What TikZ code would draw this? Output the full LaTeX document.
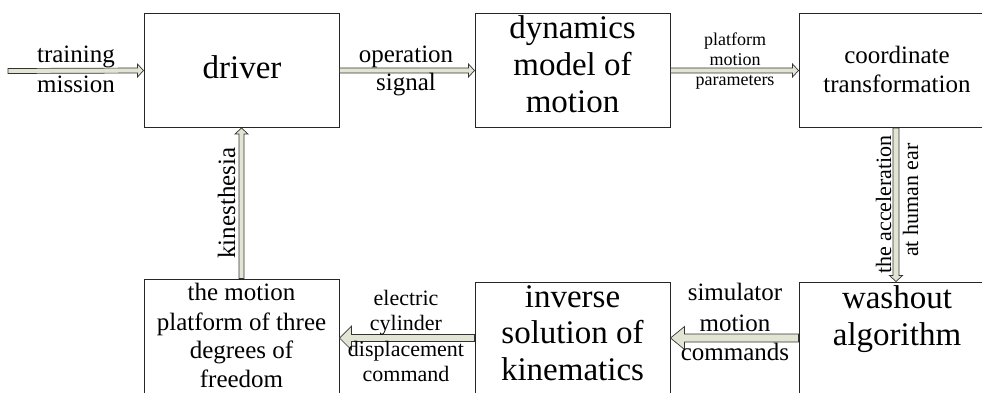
\documentclass[tikz,border=0pt]{standalone}
\usepackage{fontspec}
\setmainfont{Liberation Serif}
\usetikzlibrary{calc}
\definecolor{arrowfill}{RGB}{226,228,212}
\tikzset{
  box/.style={draw=black!85, line width=1pt, inner sep=0pt, minimum width=195pt},
  topbox/.style={box, minimum height=114pt},
  botbox/.style={box, minimum height=112pt},
  fatline/.style={draw=black!80, line width=0.7pt, fill=arrowfill, line join=miter},
  bigt/.style={font=\fontsize{33}{37}\selectfont, inner sep=0pt, anchor=base},
  midt/.style={font=\fontsize{25}{29}\selectfont, inner sep=0pt, anchor=base},
  elt/.style={font=\fontsize{22}{25}\selectfont, inner sep=0pt, anchor=base},
  acct/.style={font=\fontsize{22}{25}\selectfont, inner sep=0pt, anchor=base, rotate=90},
  kint/.style={font=\fontsize{25}{29}\selectfont, inner sep=0pt, anchor=base, rotate=90},
  smt/.style={font=\fontsize{18}{20}\selectfont, inner sep=0pt, anchor=base},
}
% #1 from, #2 to, #3 half shaft, #4 half head width, #5 head length
\newcommand\fatarrow[5]{%
  \coordinate (fa-s) at (#1);
  \coordinate (fa-e) at (#2);
  \coordinate (fa-h) at ($(fa-e)!#5!(fa-s)$);
  \draw[fatline] ($(fa-s)!#3!90:(fa-e)$) -- ($(fa-h)!#3!-90:(fa-s)$)
    -- ($(fa-h)!#4!-90:(fa-s)$) -- (fa-e) -- ($(fa-h)!#4!90:(fa-s)$)
    -- ($(fa-h)!#3!90:(fa-s)$) -- ($(fa-s)!#3!-90:(fa-e)$) -- cycle;}
\begin{document}
\begin{tikzpicture}[x=1pt, y=-1pt]
\useasboundingbox (0,0) rectangle (982,392);
\clip (0,0) rectangle (982,392);
% boxes
\node[topbox] (driver) at (241.5,70.5) {};
\node[topbox] (dyn) at (572.5,70.5) {};
\node[topbox, minimum width=194pt] (coord) at (896,70.5) {};
\node[botbox, minimum height=118pt] (plat) at (241.5,338) {};
\node[botbox] (inv) at (572.5,338) {};
\node[botbox, minimum width=194pt] (wash) at (896,338) {};
\coordinate (trainstart) at (8,71);
% box texts
\node[bigt] (t1) at (242,78) {driver};
\node[bigt] (t2) at (572.5,38) {dynamics};
\node[bigt] (t3) at (572.5,75) {model of};
\node[bigt] (t4) at (572.5,112) {motion};
\node[bigt] (t5) at (572.5,307) {inverse};
\node[bigt] (t6) at (572.5,343) {solution of};
\node[bigt] (t7) at (572.5,380) {kinematics};
\node[bigt] (t8) at (897,308) {washout};
\node[bigt] (t9) at (897,345) {algorithm};
\node[midt] (t10) at (897,63) {coordinate};
\node[midt] (t11) at (897,92) {transformation};
\node[midt] (t12) at (241.5,300) {the motion};
\node[midt] (t13) at (241.5,330) {platform of three};
\node[midt] (t14) at (241.5,358) {degrees of};
\node[midt] (t15) at (241.5,387) {freedom};
% arrows
\fatarrow{trainstart}{driver.west}{2.5pt}{6.5pt}{6pt}
\fatarrow{driver.east}{dyn.west}{2.5pt}{6.5pt}{6pt}
\fatarrow{dyn.east}{coord.west}{2.5pt}{6.5pt}{6pt}
\fatarrow{coord.south}{wash.north}{3pt}{6.5pt}{6pt}
\fatarrow{wash.west}{inv.east}{4pt}{11.5pt}{14pt}
\fatarrow{inv.west}{plat.east}{3.5pt}{12pt}{12pt}
\fatarrow{plat.north -| driver.south}{driver.south}{2.5pt}{6.5pt}{6pt}
% arrow labels
\node[midt] (l1) at (76,62.5) {training};
\node[midt] (l2) at (76,92) {mission};
\node[midt] (l3) at (406,62) {operation};
\node[midt] (l4) at (406,90) {signal};
\node[smt] (l5) at (735,45) {platform};
\node[smt] (l6) at (735,65) {motion};
\node[smt] (l7) at (735,85) {parameters};
\node[acct] (l8) at (891,204.5) {the acceleration};
\node[acct] (l9) at (918,200) {at human ear};
\node[midt] (l10) at (735,300) {simulator};
\node[midt] (l11) at (735,331) {motion};
\node[midt] (l12) at (735,360) {commands};
\node[elt] (l13) at (406,305) {electric};
\node[elt] (l14) at (406,330) {cylinder};
\node[elt] (l15) at (406,356) {displacement};
\node[elt] (l16) at (406,381) {command};
\node[kint] (l17) at (235,203) {kinesthesia};
\end{tikzpicture}
\end{document}
